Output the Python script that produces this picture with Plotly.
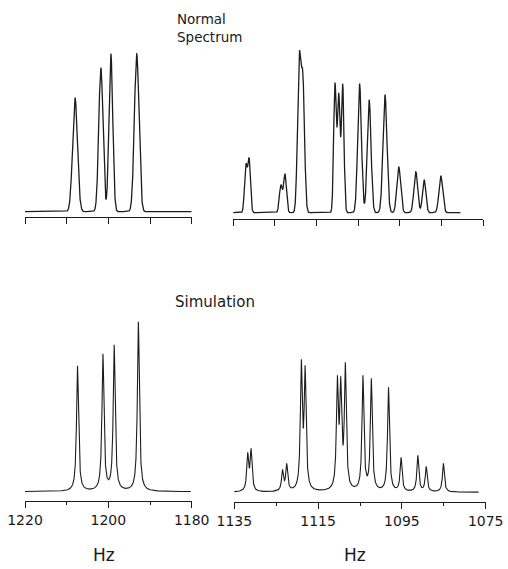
import numpy as np
import plotly.graph_objects as go

# ---------------- data ----------------
# Normal spectrum, left region (Hz, relative intensity, gaussian sigma Hz)
normal_left_hz = [1208.0, 1201.8, 1199.4, 1193.2]
normal_left_int = [114, 144, 158, 158]
normal_left_w = [0.58, 0.5, 0.45, 0.55]

# Normal spectrum, right region
normal_right_hz = [1132.0, 1131.2, 1123.6, 1122.6, 1119.2, 1118.3,
                   1110.6, 1109.7, 1108.75, 1104.7, 1102.4, 1098.6,
                   1095.3, 1091.2, 1089.2, 1085.2]
normal_right_int = [49, 55, 28, 39, 160, 140,
                    130, 120, 129, 129, 113, 118,
                    46, 41, 33, 37]
normal_right_w = [0.32, 0.32, 0.35, 0.35, 0.40, 0.40,
                  0.31, 0.31, 0.31, 0.45, 0.45, 0.48,
                  0.45, 0.45, 0.40, 0.45]

# Simulation, left region (lorentzian half-width Hz)
sim_left_hz = [1207.4, 1201.3, 1198.6, 1192.8]
sim_left_int = [126, 138, 147, 170]
sim_left_w = [0.28, 0.28, 0.28, 0.28]

# Simulation, right region
sim_right_hz = [1131.8, 1131.0, 1123.5, 1122.5, 1119.0, 1118.1,
                1110.4, 1109.6, 1108.5, 1104.3, 1102.3, 1098.2,
                1095.2, 1091.2, 1089.2, 1085.1]
sim_right_int = [40, 44, 23, 29, 133, 127,
                 117, 116, 130, 117, 114, 105,
                 35, 37, 26, 29]
sim_right_w = [0.27] * 16

# spans of the traces (Hz)
normal_left_span = (1220.0, 1180.0)
normal_right_span = (1135.3, 1080.5)
sim_left_span = (1220.0, 1180.2)
sim_right_span = (1135.5, 1076.7)

# axes
left_range = (1220, 1180)
right_range = (1135, 1075)
left_ticks_all = [1220, 1210, 1200, 1190, 1180]
right_ticks_all = [1135, 1125, 1115, 1105, 1095, 1085, 1075]
left_ticks_lab = [1220, 1200, 1180]
right_ticks_lab = [1135, 1115, 1095, 1075]
left_ticks_minor = [1210, 1190]
right_ticks_minor = [1125, 1105, 1085]


# ---------------- line shapes ----------------
def gauss(d, w):
    return np.exp(-0.5 * (d / w) ** 2)


def lor(d, w):
    return 1.0 / (1.0 + (d / w) ** 2)


def spectrum(pos, hts, wid, span, shape, n=4000):
    pos = np.asarray(pos, float)
    hts = np.asarray(hts, float)
    wid = np.asarray(wid, float)
    # amplitudes so that the summed curve reaches the read heights at the peaks
    M = shape(pos[:, None] - pos[None, :], wid[None, :])
    amp = np.linalg.solve(M, hts)
    x = np.linspace(span[0], span[1], n)
    y = (amp[None, :] * shape(x[:, None] - pos[None, :], wid[None, :])).sum(axis=1)
    return x, y


W, H = 508, 569
LINE = "#1c1c1c"

# panel geometry in pixels: x0, x1, axis_y, baseline_y, top_y
panels = {
    "tl": (25.0, 191.7, 216.7, 211.7, 45.0),
    "tr": (233.3, 483.3, 219.0, 212.7, 45.0),
    "bl": (25.0, 191.7, 501.0, 491.7, 300.0),
    "br": (234.3, 485.7, 501.7, 492.3, 300.0),
}

fig = go.Figure()

series = [
    ("tl", "x", "y", normal_left_hz, normal_left_int, normal_left_w, normal_left_span, gauss),
    ("tr", "x2", "y2", normal_right_hz, normal_right_int, normal_right_w, normal_right_span, gauss),
    ("bl", "x3", "y3", sim_left_hz, sim_left_int, sim_left_w, sim_left_span, lor),
    ("br", "x4", "y4", sim_right_hz, sim_right_int, sim_right_w, sim_right_span, lor),
]
for key, xa, ya, p, h, w, span, shp in series:
    x, y = spectrum(p, h, w, span, shp)
    fig.add_trace(go.Scatter(x=x, y=y, mode="lines", xaxis=xa, yaxis=ya,
                             line=dict(color=LINE, width=1.3 if key[0] == "t" else 1.1),
                             hoverinfo="skip", showlegend=False))


def dom(key):
    x0, x1, ay, by, ty = panels[key]
    xd = [x0 / W, x1 / W]
    yd = [1 - ay / H, 1 - ty / H]
    off = ay - by
    yr = [-off, (ay - ty) - off]
    return xd, yd, yr


axis_common = dict(showline=True, linecolor=LINE, linewidth=1.2, showgrid=False,
                   zeroline=False, ticks="outside", tickcolor=LINE, tickwidth=1.2,
                   fixedrange=True, automargin=False)
tickfont = dict(family="DejaVu Sans", size=14, color="#1a1a1a")

layout = dict(width=W, height=H, margin=dict(l=0, r=0, t=0, b=0, pad=0, autoexpand=False),
              paper_bgcolor="white", plot_bgcolor="white", showlegend=False)

names = [("tl", "xaxis", "yaxis", "x", left_range, left_ticks_all, None, None),
         ("tr", "xaxis2", "yaxis2", "x2", right_range, right_ticks_all, None, None),
         ("bl", "xaxis3", "yaxis3", "x3", left_range, left_ticks_lab, left_ticks_minor, True),
         ("br", "xaxis4", "yaxis4", "x4", right_range, right_ticks_lab, right_ticks_minor, True)]
for key, xn, yn, xanchor, rng, tv, minor, lab in names:
    xd, yd, yr = dom(key)
    ya_anchor = "y" + xanchor[1:]
    ax = dict(axis_common, domain=xd, range=list(rng), anchor=ya_anchor,
              tickvals=tv, ticklen=6)
    if lab:
        ax.update(showticklabels=True, tickfont=tickfont,
                  ticktext=[str(v) for v in tv],
                  minor=dict(tickvals=minor, ticks="outside", ticklen=3,
                             tickcolor=LINE, tickwidth=1.2, showgrid=False))
    else:
        ax.update(showticklabels=False)
    layout[xn] = ax
    layout[yn] = dict(domain=yd, range=yr, visible=False, anchor=xanchor,
                      fixedrange=True, automargin=False)

txt = dict(family="DejaVu Sans", color="#1a1a1a")
annotations = [
    dict(text="Normal<br>Spectrum", x=175 / W, y=1 - 27.5 / H, xanchor="left",
         yanchor="middle", align="left", font=dict(txt, size=13.5)),
    dict(text="Simulation", x=173 / W, y=1 - 302 / H, xanchor="left", yanchor="middle",
         font=dict(txt, size=15)),
    dict(text="Hz", x=104 / W, y=1 - 555 / H, xanchor="center", yanchor="middle",
         font=dict(txt, size=17)),
    dict(text="Hz", x=355 / W, y=1 - 555 / H, xanchor="center", yanchor="middle",
         font=dict(txt, size=17)),
]
for a in annotations:
    a.update(xref="paper", yref="paper", showarrow=False)
layout["annotations"] = annotations

fig.update_layout(**layout)
fig.write_html("out.html")
